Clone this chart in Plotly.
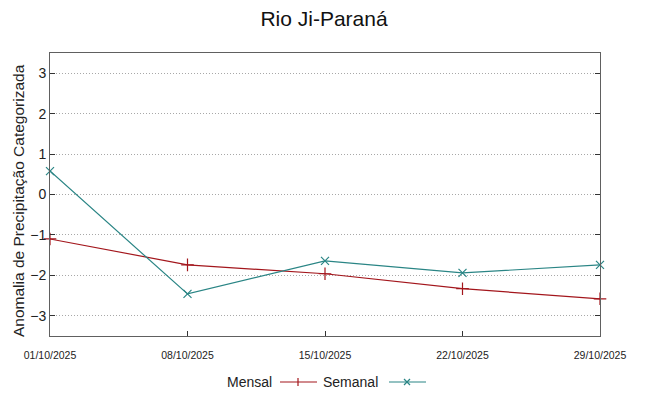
import plotly.graph_objects as go

dates = ["2025-10-01", "2025-10-08", "2025-10-15", "2025-10-22", "2025-10-29"]
tick_labels = ["01/10/2025", "08/10/2025", "15/10/2025", "22/10/2025", "29/10/2025"]
mensal = [-1.10, -1.74, -1.96, -2.33, -2.58]
semanal = [0.58, -2.46, -1.64, -1.94, -1.74]

RED = "#a3161c"
TEAL = "#2a8585"
FONT = "Liberation Sans"

fig = go.Figure()
fig.add_trace(go.Scatter(x=dates, y=mensal, mode="lines+markers", name="Mensal",
                         line=dict(color=RED, width=1.2),
                         marker=dict(symbol="cross-thin", size=9, line=dict(width=1.2, color=RED)),
                         cliponaxis=False))
fig.add_trace(go.Scatter(x=dates, y=semanal, mode="lines+markers", name="Semanal",
                         line=dict(color=TEAL, width=1.2),
                         marker=dict(symbol="x-thin", size=8, line=dict(width=1.2, color=TEAL)),
                         cliponaxis=False))

L, R, T, B = 50, 48, 53, 60
W, H = 648, 396
pw, ph = W - L - R, H - T - B

def px(xp):
    return (xp - L) / pw

def py(yp):
    return (H - B - yp) / ph

shapes = []
annotations = []
ly = 382
# Mensal legend
annotations.append(dict(x=px(274), y=py(ly), xref="paper", yref="paper", text="Mensal",
                        showarrow=False, xanchor="right", yanchor="middle",
                        font=dict(family=FONT, size=14, color="#222")))
shapes.append(dict(type="line", xref="paper", yref="paper", x0=px(280), x1=px(317), y0=py(ly), y1=py(ly),
                   line=dict(color=RED, width=1.2)))
shapes.append(dict(type="line", xref="paper", yref="paper", x0=px(298), x1=px(298), y0=py(ly - 4), y1=py(ly + 4),
                   line=dict(color=RED, width=1.2)))
# Semanal legend
annotations.append(dict(x=px(380), y=py(ly), xref="paper", yref="paper", text="Semanal",
                        showarrow=False, xanchor="right", yanchor="middle",
                        font=dict(family=FONT, size=14, color="#222")))
shapes.append(dict(type="line", xref="paper", yref="paper", x0=px(389), x1=px(426), y0=py(ly), y1=py(ly),
                   line=dict(color=TEAL, width=1.2)))
shapes.append(dict(type="line", xref="paper", yref="paper", x0=px(404), x1=px(410), y0=py(ly - 3), y1=py(ly + 3),
                   line=dict(color=TEAL, width=1.2)))
shapes.append(dict(type="line", xref="paper", yref="paper", x0=px(404), x1=px(410), y0=py(ly + 3), y1=py(ly - 3),
                   line=dict(color=TEAL, width=1.2)))
# y-axis title
annotations.append(dict(x=px(19), y=py(201), xref="paper", yref="paper",
                        text="Anomalia de Precipitação Categorizada", textangle=-90,
                        showarrow=False, xanchor="center", yanchor="middle",
                        font=dict(family=FONT, size=15.5, color="#222")))

fig.update_layout(
    width=W, height=H,
    margin=dict(l=L, r=R, t=T, b=B, autoexpand=False),
    paper_bgcolor="white", plot_bgcolor="white",
    showlegend=False,
    font=dict(family=FONT, color="#222"),
    title=dict(text="Rio Ji-Paraná", x=0.5, xanchor="center", y=1 - 19 / H, yanchor="middle",
               font=dict(family=FONT, size=21, color="#111")),
    shapes=shapes,
    annotations=annotations,
)
fig.update_xaxes(
    type="date", range=[dates[0], dates[-1]],
    tickvals=dates, ticktext=tick_labels,
    tickfont=dict(family=FONT, size=10.5, color="#222"),
    ticklabelstandoff=9,
    showgrid=False, zeroline=False, automargin=False,
    showline=True, linecolor="#606060", linewidth=1, mirror=True,
    ticks="inside", ticklen=5, tickcolor="#333", tickwidth=1,
)
fig.update_yaxes(
    range=[-3.5, 3.5], tickvals=[-3, -2, -1, 0, 1, 2, 3],
    tickfont=dict(family=FONT, size=14, color="#222"),
    showgrid=True, gridcolor="#a8a8a8", griddash="1px,2px", gridwidth=1,
    zeroline=False, automargin=False,
    showline=True, linecolor="#606060", linewidth=1, mirror="ticks",
    ticks="inside", ticklen=5, tickcolor="#333", tickwidth=1,
)

fig.write_html("out.html", config={"displayModeBar": False},
               post_script="document.body.style.margin='0';document.body.style.padding='0';")
